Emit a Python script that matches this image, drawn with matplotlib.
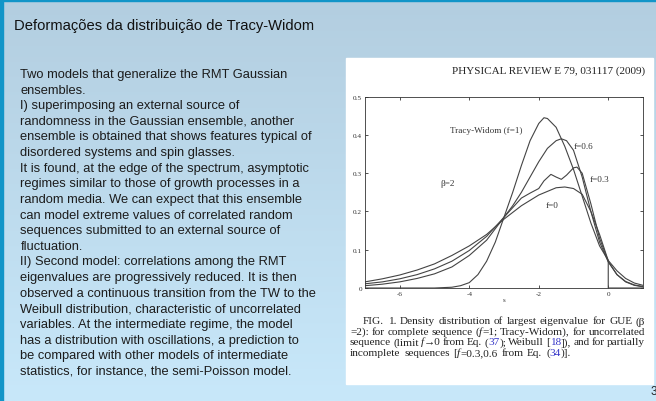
import numpy as np
import matplotlib
matplotlib.use("Agg")
import matplotlib.pyplot as plt
from matplotlib.patches import Rectangle

plt.rcParams['axes.unicode_minus'] = False

W, H = 656, 402

# curves (s, density)
s_tw = [-7.0, -5.0, -4.75, -4.5, -4.25, -4.0, -3.75, -3.5, -3.25, -3.0, -2.75, -2.5, -2.25,
        -2.0, -1.85, -1.75, -1.5, -1.25, -1.0, -0.75, -0.5, -0.25, 0.0, 0.25, 0.5, 0.75, 1.0]
p_tw = [0.0, 0.0, 0.001, 0.002, 0.006, 0.014, 0.035, 0.07, 0.12, 0.185, 0.25, 0.32, 0.385,
        0.43, 0.445, 0.443, 0.42, 0.37, 0.31, 0.24, 0.17, 0.11, 0.072, 0.045, 0.025, 0.013, 0.007]

s_f06 = [-7.0, -6.5, -6.0, -5.5, -5.0, -4.5, -4.0, -3.5, -3.0, -2.75, -2.5, -2.25, -2.0,
         -1.75, -1.5, -1.35, -1.2, -1.0, -0.75, -0.5, -0.25, 0.0, 0.25, 0.5, 0.75, 1.0]
p_f06 = [0.006, 0.01, 0.016, 0.025, 0.037, 0.055, 0.085, 0.125, 0.185, 0.215, 0.25, 0.29, 0.33,
         0.365, 0.385, 0.39, 0.385, 0.36, 0.29, 0.2, 0.12, 0.068, 0.035, 0.016, 0.007, 0.003]

s_f03 = [-7.0, -6.5, -6.0, -5.5, -5.0, -4.5, -4.0, -3.5, -3.0, -2.75, -2.5, -2.25, -2.0,
         -1.85, -1.65, -1.5, -1.35, -1.2, -1.0, -0.9, -0.75, -0.5, -0.25, 0.0, 0.25, 0.5, 0.75, 1.0]
p_f03 = [0.011, 0.016, 0.024, 0.035, 0.05, 0.07, 0.098, 0.135, 0.185, 0.21, 0.235, 0.248, 0.26,
         0.28, 0.297, 0.29, 0.284, 0.295, 0.314, 0.316, 0.3, 0.22, 0.13, 0.07, 0.035, 0.017, 0.008, 0.004]

s_f0 = [-7.0, -6.5, -6.0, -5.5, -5.0, -4.5, -4.0, -3.5, -3.0, -2.5, -2.0, -1.5, -1.25,
        -1.0, -0.75, -0.5, -0.25, -0.05, 0.0, 0.0, 1.0]
p_f0 = [0.016, 0.024, 0.034, 0.047, 0.063, 0.085, 0.11, 0.14, 0.18, 0.215, 0.243, 0.262, 0.264,
        0.26, 0.245, 0.2, 0.14, 0.085, 0.072, 0.0, 0.0]

x_ticks = [-6, -4, -2, 0]
y_ticks = [0, 0.1, 0.2, 0.3, 0.4, 0.5]
y_labels = ['0', '0.1', '0.2', '0.3', '0.4', '0.5']

body = [
    "Two models that generalize the RMT Gaussian",
    "ensembles.",
    "I) superimposing an external source of",
    "randomness in the Gaussian ensemble, another",
    "ensemble is obtained that shows features typical of",
    "disordered systems and spin glasses.",
    "It is found, at the edge of the spectrum, asymptotic",
    "regimes similar to those of growth processes in a",
    "random media. We can expect that this ensemble",
    "can model extreme values of correlated random",
    "sequences submitted to an external source of",
    "fluctuation.",
    "II) Second model: correlations among the RMT",
    "eigenvalues are progressively reduced. It is then",
    "observed a continuous transition from the TW to the",
    "Weibull distribution, characteristic of uncorrelated",
    "variables. At the intermediate regime, the model",
    "has a distribution with oscillations, a prediction to",
    "be compared with other models of intermediate",
    "statistics, for instance, the semi-Poisson model.",
]

n, i, b = 'n', 'i', 'b'
caption = [
    [[("FIG.", n)], [("1.", n)], [("Density", n)], [("distribution", n)], [("of", n)],
     [("largest", n)], [("eigenvalue", n)], [("for", n)], [("GUE", n)], [("(β", n)]],
    [[("=2):", n)], [("for", n)], [("complete", n)], [("sequence", n)],
     [("(", n), ("f", i), ("=1;", n)], [("Tracy-Widom),", n)], [("for", n)], [("uncorrelated", n)]],
    [[("sequence", n)], [("(limit", n)], [("f", i), ("→0", n)], [("from", n)], [("Eq.", n)],
     [("(", n), ("37", b), (");", n)], [("Weibull", n)], [("[", n), ("18", b), ("]),", n)],
     [("and", n)], [("for", n)], [("partially", n)]],
    [[("incomplete", n)], [("sequences", n)], [("[", n), ("f", i), ("=0.3,0.6", n)],
     [("from", n)], [("Eq.", n)], [("(", n), ("34", b), (")].", n)]],
]

fig = plt.figure(figsize=(W / 100, H / 100), dpi=100)


def fx(x):
    return x / W


def fy(y):
    return 1 - y / H


# background gradient
bg = fig.add_axes([0, 0, 1, 1])
c_top = np.array([0xb3, 0xce, 0xe0]) / 255
c_bot = np.array([0xc8, 0xe8, 0xfa]) / 255
t = np.linspace(0, 1, 256)[:, None]
grad = (c_top[None, :] * (1 - t) + c_bot[None, :] * t)[:, None, :]
bg.imshow(grad, aspect='auto', extent=[0, 1, 0, 1])
bg.set_xlim(0, 1)
bg.set_ylim(0, 1)
bg.axis('off')

fig.patches.append(Rectangle((0, fy(2)), 1, 2 / H, transform=fig.transFigure,
                             color='#1295c8', zorder=2))
fig.patches.append(Rectangle((0, 0), 3 / W, 1, transform=fig.transFigure,
                             color='#1295c8', zorder=2))
fig.patches.append(Rectangle((fx(346), fy(385)), (653 - 346) / W, (385 - 59) / H,
                             transform=fig.transFigure, color='white', zorder=2))

fig.text(fx(14), fy(26), "Deformações da distribuição de Tracy-Widom", fontsize=10.6,
         family='Liberation Sans', color='#111111', va='center', ha='left')

for k, line in enumerate(body):
    fig.text(fx(20.5), fy(75 + k * 15.62), line, fontsize=9.3, family='Liberation Sans',
             color='#1c1c1c', va='center', ha='left')

fig.text(fx(651), fy(392), "3", fontsize=8.5, family='Liberation Sans', color='#222222',
         va='center', ha='left')

fig.text(fx(645), fy(73.5), "PHYSICAL REVIEW E 79, 031117 (2009)", fontsize=8.0,
         family='Liberation Serif', color='#222222', ha='right', va='baseline')

# plot
ax = fig.add_axes([fx(365), fy(289), (643 - 365) / W, (289 - 97.7) / H])
ax.set_zorder(3)
for s, p in [(s_tw, p_tw), (s_f06, p_f06), (s_f03, p_f03), (s_f0, p_f0)]:
    ax.plot(s, p, color='#444444', lw=0.8)
ax.set_xlim(-7, 1)
ax.set_ylim(0, 0.5)
ax.set_xticks(x_ticks)
ax.set_yticks(y_ticks)
ax.set_yticklabels(y_labels)
ax.tick_params(direction='in', top=True, right=True, length=2.5, width=0.6, labelsize=5.2,
               pad=2, colors='#333333')
for lab in ax.get_xticklabels() + ax.get_yticklabels():
    lab.set_family('Liberation Serif')
for sp in ax.spines.values():
    sp.set_linewidth(0.6)
    sp.set_color('#333333')
ax.set_xlabel('s', fontsize=5, family='Liberation Serif', labelpad=1, color='#333333')

af = dict(fontsize=6.6, family='Liberation Serif', color='#333333', va='center')
ax.text(-3.52, 0.413, "Tracy-Widom (f=1)", ha='center', **af)
ax.text(-0.99, 0.372, "f=0.6", ha='left', **af)
ax.text(-0.53, 0.285, "f=0.3", ha='left', **af)
ax.text(-4.84, 0.274, "β=2", ha='left', **af)
ax.text(-1.8, 0.218, "f=0", ha='left', **af)

# justified caption
r = fig.canvas.get_renderer()
cap_fs = 8.1
cap_x0 = [363, 350, 350, 350]
cap_y = [324.5, 335, 345.5, 356]
cap_right = 645


def make_word(segs):
    objs = []
    for txt, st in segs:
        kw = dict(fontsize=cap_fs, family=['Liberation Serif', 'DejaVu Serif'],
                  color='#222222', va='baseline', ha='left')
        if st == 'i':
            kw['style'] = 'italic'
        if st == 'b':
            kw['color'] = '#3535c8'
        o = fig.text(0, 0, txt, **kw)
        objs.append(o)
    widths = [o.get_window_extent(r).width for o in objs]
    return objs, widths


space_w = fig.text(0, 0, "a a", fontsize=cap_fs, family='Liberation Serif')
w_aa = space_w.get_window_extent(r).width
space_w.set_text("aa")
w_sp = w_aa - space_w.get_window_extent(r).width
space_w.remove()

for k, words in enumerate(caption):
    built = [make_word(wd) for wd in words]
    total = sum(sum(ws) for _, ws in built)
    if k < len(caption) - 1:
        gap = max((cap_right - cap_x0[k] - total) / (len(built) - 1), 0.5 * w_sp)
    else:
        gap = w_sp * 1.3
    x = cap_x0[k]
    for objs, ws in built:
        for o, w in zip(objs, ws):
            o.set_position((fx(x), fy(cap_y[k])))
            x += w
        x += gap

fig.savefig("out.png", dpi=100)
